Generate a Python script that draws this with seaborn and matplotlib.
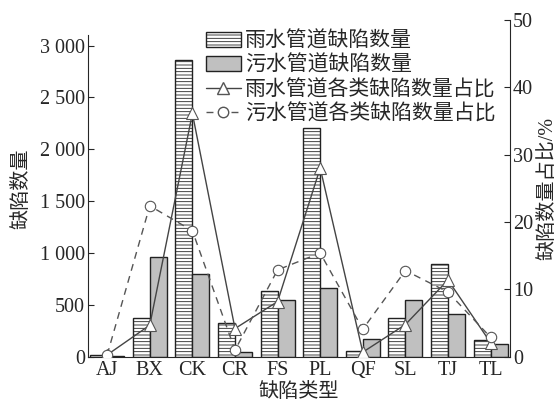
import pandas as pd
import matplotlib.pyplot as plt
import seaborn as sns
from matplotlib.ticker import FuncFormatter, MultipleLocator
from matplotlib.patches import Patch
from matplotlib.lines import Line2D

# 缺陷类型及数量
categories = ['AJ', 'BX', 'CK', 'CR', 'FS', 'PL', 'QF', 'SL', 'TJ', 'TL']
rain_count = [20, 370, 2860, 330, 635, 2210, 55, 375, 900, 166]
sewage_count = [13, 960, 800, 45, 550, 660, 175, 545, 410, 121]
rain_pct = [0.3, 4.7, 36.1, 4.2, 8.2, 28.0, 0.7, 4.8, 11.4, 2.1]
sewage_pct = [0.3, 22.4, 18.7, 1.0, 12.9, 15.4, 4.1, 12.8, 9.6, 2.9]

rain_name = '雨水管道缺陷数量'
sewage_name = '污水管道缺陷数量'
df = pd.DataFrame({
    'type': categories * 2,
    'count': rain_count + sewage_count,
    'pipe': [rain_name] * len(categories) + [sewage_name] * len(categories),
})

sns.set_style('ticks')
plt.rcParams['font.family'] = ['Liberation Serif', 'Noto Sans CJK SC']
plt.rcParams['hatch.linewidth'] = 0.6
plt.rcParams['axes.unicode_minus'] = False
fs = 14.5

fig, ax = plt.subplots(figsize=(5.57, 4.01), dpi=100)
fig.subplots_adjust(left=0.158, right=0.916, bottom=0.11, top=0.951)

sns.barplot(data=df, x='type', y='count', hue='pipe', order=categories,
            hue_order=[rain_name, sewage_name], palette=['white', '#c0c0c0'],
            edgecolor='#222222', linewidth=1.0, width=0.8, saturation=1,
            legend=False, ax=ax)
for p in ax.containers[0]:
    p.set_hatch('-----')
    p.set_facecolor('white')

ax.set_xlim(-0.45, 9.46)
ax.set_ylim(0, 3250)
ax.yaxis.set_major_locator(MultipleLocator(500))
ax.yaxis.set_major_formatter(FuncFormatter(lambda v, _: f'{int(v):,}'.replace(',', ' ')))
ax.spines['left'].set_bounds(0, 3100)
ax.spines['top'].set_visible(False)
ax.spines['right'].set_visible(False)
ax.tick_params(axis='y', direction='in', length=4, labelsize=fs, pad=2)
ax.tick_params(axis='x', length=0, labelsize=fs, pad=3)
ax.set_xlabel('缺陷类型', fontsize=fs, labelpad=2)
ax.set_ylabel('缺陷数量', fontsize=fs, labelpad=6)

ax2 = ax.twinx()
x = list(range(len(categories)))
sns.lineplot(x=x, y=rain_pct, ax=ax2, color='#444444', linewidth=1.0,
             marker='^', markersize=9, markerfacecolor='white',
             markeredgecolor='#555555', markeredgewidth=0.8)
sns.lineplot(x=x, y=sewage_pct, ax=ax2, color='#555555', linewidth=1.0,
             linestyle=(0, (5, 4)), marker='o', markersize=7.5,
             markerfacecolor='white', markeredgecolor='#555555', markeredgewidth=0.8)
ax2.set_ylim(0, 50)
ax2.yaxis.set_major_locator(MultipleLocator(10))
ax2.spines['top'].set_visible(False)
ax2.spines['left'].set_visible(False)
ax2.spines['bottom'].set_visible(False)
ax2.tick_params(axis='y', direction='in', length=4, labelsize=fs, pad=2)
ax2.set_ylabel('缺陷数量占比/%', fontsize=fs, labelpad=4)

handles = [
    Patch(facecolor='white', edgecolor='#222222', hatch='-----', label=rain_name),
    Patch(facecolor='#c0c0c0', edgecolor='#222222', label=sewage_name),
    Line2D([], [], color='#444444', lw=1.0, marker='^', markersize=9,
           markerfacecolor='white', markeredgecolor='#555555', label='雨水管道各类缺陷数量占比'),
    Line2D([], [], color='#555555', lw=1.0, ls=(0, (5, 4)), marker='o', markersize=7.5,
           markerfacecolor='white', label='污水管道各类缺陷数量占比'),
]
ax2.legend(handles=handles, loc='upper left', bbox_to_anchor=(0.28, 0.965),
           frameon=False, prop={'size': 15}, handlelength=1.65, handletextpad=0.2,
           labelspacing=0.2, borderpad=0, borderaxespad=0)

plt.savefig('out.png', dpi=100)
